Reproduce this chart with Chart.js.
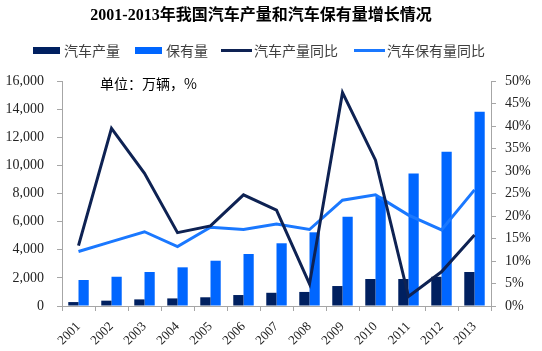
<!DOCTYPE html>
<html>
<head>
<meta charset="utf-8">
<script src="https://cdn.jsdelivr.net/npm/chart.js@4/dist/chart.umd.min.js"></script>
<style>
  html, body { margin: 0; padding: 0; background: #fff; }
  #wrap { width: 542px; height: 351px; }
</style>
</head>
<body>
<div id="wrap"><canvas id="graphique"></canvas></div>
<script>
// Données
var annees = ["2001", "2002", "2003", "2004", "2005", "2006", "2007", "2008", "2009", "2010", "2011", "2012", "2013"];
var production = [280, 380, 470, 540, 620, 780, 940, 1000, 1420, 1920, 1920, 2080, 2420];
var parc = [1850, 2080, 2420, 2750, 3220, 3700, 4460, 5240, 6350, 7770, 9430, 10970, 13810];
var productionPct = [13.4, 39.5, 29.5, 16.3, 17.8, 24.7, 21.3, 4.9, 47.4, 32.4, 2.1, 7.6, 15.8];
var parcPct = [12.1, 14.3, 16.5, 13.2, 17.5, 17.0, 18.2, 17.0, 23.5, 24.7, 20.2, 16.9, 25.8];
var ticksGauche = [0, 2000, 4000, 6000, 8000, 10000, 12000, 14000, 16000];
var ticksDroite = [0, 5, 10, 15, 20, 25, 30, 35, 40, 45, 50];

var titre = "2001-2013年我国汽车产量和汽车保有量增长情况";
var unite = "单位：万辆，%";

var foncé = "#002060";
var bleu = "#0066ff";
var ligneFoncee = "#0e2253";
var ligneBleue = "#1a78ff";
var axe = "#a6a6a6";
var serif = "'Liberation Serif', 'Times New Roman', serif";
var sans = "'Noto Sans CJK SC', sans-serif";

// Titre, légende et unité dessinés à la main
var decor = {
  id: "decor",
  afterDraw: function(chart) {
    var c = chart.ctx;
    c.save();
    c.fillStyle = "#000";
    c.font = "bold 16px " + serif + ", 'Noto Sans CJK SC'";
    c.textAlign = "center";
    c.textBaseline = "middle";
    c.fillText(titre, 261, 16);

    var items = [
      { x: 33, texte: "汽车产量", couleur: foncé, type: "box" },
      { x: 135, texte: "保有量", couleur: bleu, type: "box" },
      { x: 221, texte: "汽车产量同比", couleur: ligneFoncee, type: "line" },
      { x: 354, texte: "汽车保有量同比", couleur: ligneBleue, type: "line" }
    ];
    c.font = "14px " + sans;
    c.textAlign = "left";
    for (var i = 0; i < items.length; i++) {
      var it = items[i];
      c.fillStyle = it.couleur;
      if (it.type === "box") {
        c.fillRect(it.x, 47, 27, 7);
      } else {
        c.fillRect(it.x, 49, 31, 3);
      }
      c.fillStyle = "#404040";
      c.fillText(it.texte, it.x + (it.type === "box" ? 31 : 33), 51);
    }

    c.fillStyle = "#000";
    c.font = "14px " + sans;
    c.fillText(unite, 100, 84);
    c.restore();
  }
};

var ctx = document.getElementById("graphique").getContext("2d");

var chart = new Chart(ctx, {
  data: {
    labels: annees,
    datasets: [
      { type: "line", label: "汽车产量同比", data: productionPct, yAxisID: "y2", borderColor: ligneFoncee, borderWidth: 3, pointRadius: 0, tension: 0, order: 0 },
      { type: "line", label: "汽车保有量同比", data: parcPct, yAxisID: "y2", borderColor: ligneBleue, borderWidth: 3, pointRadius: 0, tension: 0, order: 0 },
      { type: "bar", label: "汽车产量", data: production, yAxisID: "y", backgroundColor: foncé, categoryPercentage: 0.62, barPercentage: 1, order: 1 },
      { type: "bar", label: "保有量", data: parc, yAxisID: "y", backgroundColor: bleu, categoryPercentage: 0.62, barPercentage: 1, order: 1 }
    ]
  },
  options: {
    responsive: true,
    maintainAspectRatio: false,
    animation: false,
    layout: { padding: { top: 81, left: 0, right: 0, bottom: 0 } },
    plugins: {
      legend: { display: false },
      title: { display: false },
      tooltip: { enabled: false }
    },
    scales: {
      x: {
        offset: true,
        grid: { display: true, offset: true, drawOnChartArea: false, color: axe, tickLength: 5 },
        border: { color: axe },
        ticks: { color: "#222", font: { family: serif, size: 13 }, minRotation: 45, maxRotation: 45, padding: 8 },
        afterFit: function(s) { s.height = 45; }
      },
      y: {
        position: "left",
        min: 0, max: 16000,
        afterBuildTicks: function(s) { s.ticks = ticksGauche.map(function(v) { return { value: v }; }); },
        grid: { display: true, drawOnChartArea: false, color: axe, tickLength: 5 },
        border: { color: axe },
        ticks: {
          color: "#222", font: { family: serif, size: 14 }, padding: 13,
          callback: function(v) { return v.toLocaleString("en-US"); }
        },
        afterFit: function(s) { s.width = 62; }
      },
      y2: {
        position: "right",
        min: 0, max: 50,
        afterBuildTicks: function(s) { s.ticks = ticksDroite.map(function(v) { return { value: v }; }); },
        grid: { display: true, drawOnChartArea: false, color: axe, tickLength: 5 },
        border: { color: axe },
        ticks: {
          color: "#222", font: { family: serif, size: 14 }, padding: 9,
          callback: function(v) { return v + "%"; }
        },
        afterFit: function(s) { s.width = 51; }
      }
    }
  },
  plugins: [decor]
});
</script>
</body>
</html>
